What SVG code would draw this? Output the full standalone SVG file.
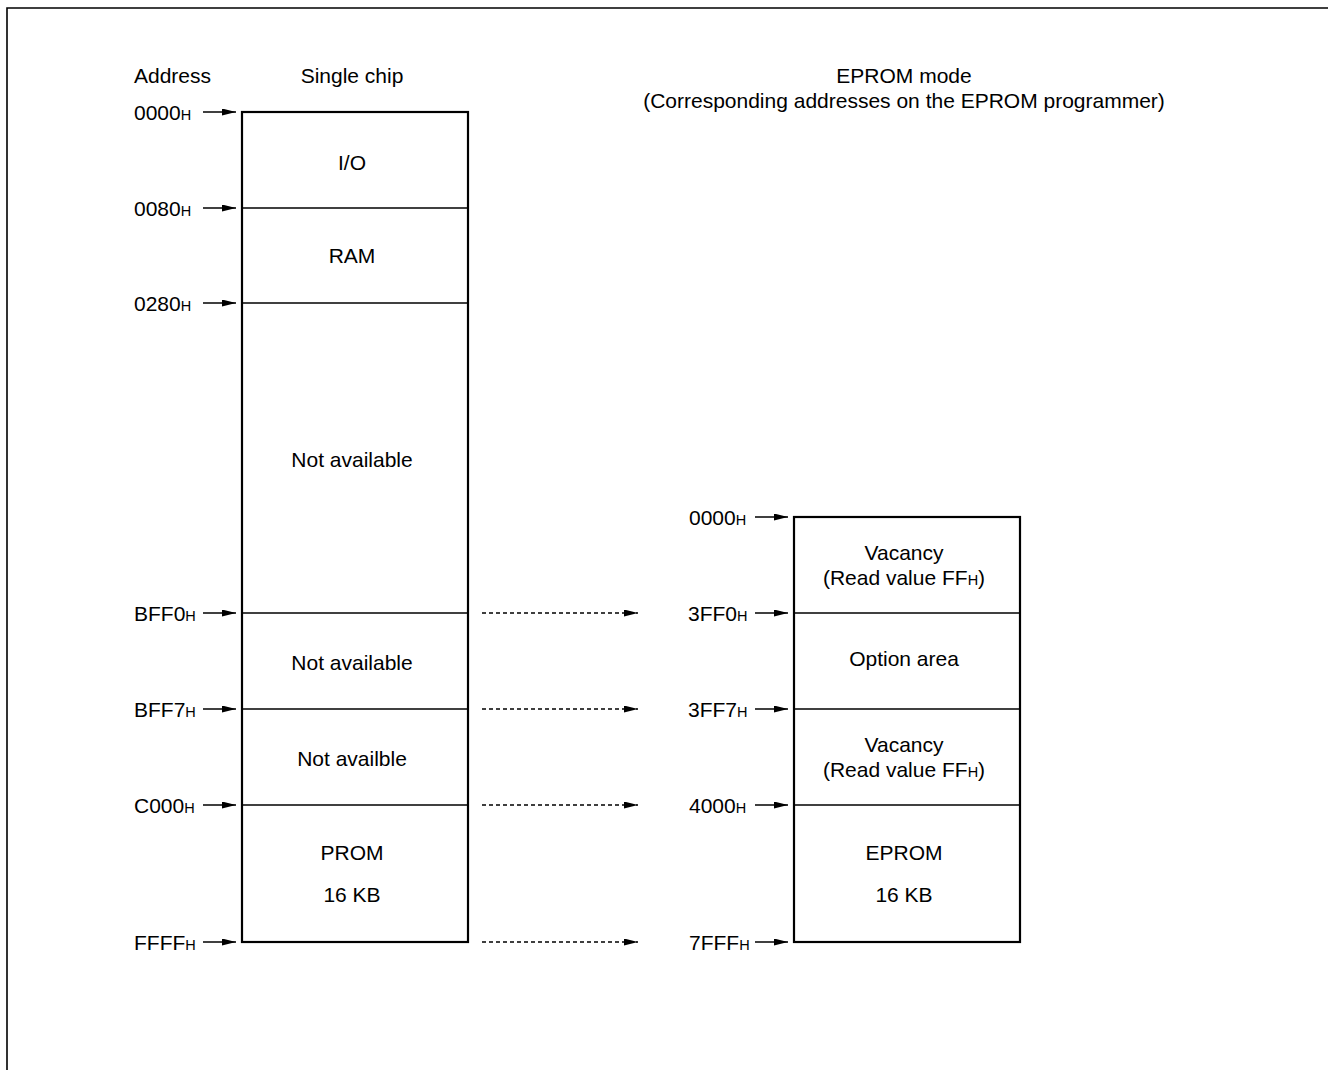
<svg xmlns="http://www.w3.org/2000/svg" width="1328" height="1070" viewBox="0 0 1328 1070">
<style>
text{font-family:"Liberation Sans",Arial,sans-serif;font-size:21px;fill:#000}
.c{text-anchor:middle}
.s{font-size:14.5px}
.box{fill:#fff;stroke:#000;stroke-width:2.2}
.div{stroke:#000;stroke-width:1.6}
.arr{stroke:#000;stroke-width:1.5;fill:none;marker-end:url(#ah)}
.dot{stroke:#000;stroke-width:1.5;fill:none;stroke-dasharray:4 3;marker-end:url(#ah)}
</style>
<defs>
<marker id="ah" viewBox="0 0 14 7" refX="14" refY="3.5" markerWidth="14" markerHeight="7" markerUnits="userSpaceOnUse" orient="auto">
<path d="M0,0 L14,3.5 L0,7 z" fill="#000"/>
</marker>
</defs>
<rect width="1328" height="1070" fill="#fff"/>
<path d="M7,1070 V8 H1328" fill="none" stroke="#000" stroke-width="1.6"/>

<g id="headers">
<text x="134" y="83">Address</text>
<text x="352" y="83" class="c">Single chip</text>
<text x="904" y="83" class="c">EPROM mode</text>
<text x="904" y="108" class="c">(Corresponding addresses on the EPROM programmer)</text>
</g>

<g id="single-chip">
<rect class="box" x="242" y="112" width="226" height="830"/>
<line class="div" x1="242" y1="208" x2="468" y2="208"/>
<line class="div" x1="242" y1="303" x2="468" y2="303"/>
<line class="div" x1="242" y1="613" x2="468" y2="613"/>
<line class="div" x1="242" y1="709" x2="468" y2="709"/>
<line class="div" x1="242" y1="805" x2="468" y2="805"/>
<text x="352" y="170" class="c">I/O</text>
<text x="352" y="263" class="c">RAM</text>
<text x="352" y="467" class="c">Not available</text>
<text x="352" y="670" class="c">Not available</text>
<text x="352" y="766" class="c">Not availble</text>
<text x="352" y="860" class="c">PROM</text>
<text x="352" y="902" class="c">16 KB</text>
</g>

<g id="eprom">
<rect class="box" x="794" y="517" width="226" height="425"/>
<line class="div" x1="794" y1="613" x2="1020" y2="613"/>
<line class="div" x1="794" y1="709" x2="1020" y2="709"/>
<line class="div" x1="794" y1="805" x2="1020" y2="805"/>
<text x="904" y="560" class="c">Vacancy</text>
<text x="904" y="585" class="c">(Read value FF<tspan class="s">H</tspan>)</text>
<text x="904" y="666" class="c">Option area</text>
<text x="904" y="752" class="c">Vacancy</text>
<text x="904" y="777" class="c">(Read value FF<tspan class="s">H</tspan>)</text>
<text x="904" y="860" class="c">EPROM</text>
<text x="904" y="902" class="c">16 KB</text>
</g>

<g id="left-labels">
<text x="134" y="120">0000<tspan class="s">H</tspan></text>
<text x="134" y="216">0080<tspan class="s">H</tspan></text>
<text x="134" y="311">0280<tspan class="s">H</tspan></text>
<text x="134" y="621">BFF0<tspan class="s">H</tspan></text>
<text x="134" y="717">BFF7<tspan class="s">H</tspan></text>
<text x="134" y="813">C000<tspan class="s">H</tspan></text>
<text x="134" y="950">FFFF<tspan class="s">H</tspan></text>
</g>

<g id="right-labels">
<text x="689" y="525">0000<tspan class="s">H</tspan></text>
<text x="688" y="621">3FF0<tspan class="s">H</tspan></text>
<text x="688" y="717">3FF7<tspan class="s">H</tspan></text>
<text x="689" y="813">4000<tspan class="s">H</tspan></text>
<text x="689" y="950">7FFF<tspan class="s">H</tspan></text>
</g>

<g id="connectors">
<line class="arr" x1="203" y1="112" x2="236" y2="112"/>
<line class="arr" x1="203" y1="208" x2="236" y2="208"/>
<line class="arr" x1="203" y1="303" x2="236" y2="303"/>
<line class="arr" x1="203" y1="613" x2="236" y2="613"/>
<line class="arr" x1="203" y1="709" x2="236" y2="709"/>
<line class="arr" x1="203" y1="805" x2="236" y2="805"/>
<line class="arr" x1="203" y1="942" x2="236" y2="942"/>
<line class="arr" x1="755" y1="517" x2="788" y2="517"/>
<line class="arr" x1="755" y1="613" x2="788" y2="613"/>
<line class="arr" x1="755" y1="709" x2="788" y2="709"/>
<line class="arr" x1="755" y1="805" x2="788" y2="805"/>
<line class="arr" x1="755" y1="942" x2="788" y2="942"/>
<line class="dot" x1="482" y1="613" x2="638" y2="613"/>
<line class="dot" x1="482" y1="709" x2="638" y2="709"/>
<line class="dot" x1="482" y1="805" x2="638" y2="805"/>
<line class="dot" x1="482" y1="942" x2="638" y2="942"/>
</g>
</svg>
